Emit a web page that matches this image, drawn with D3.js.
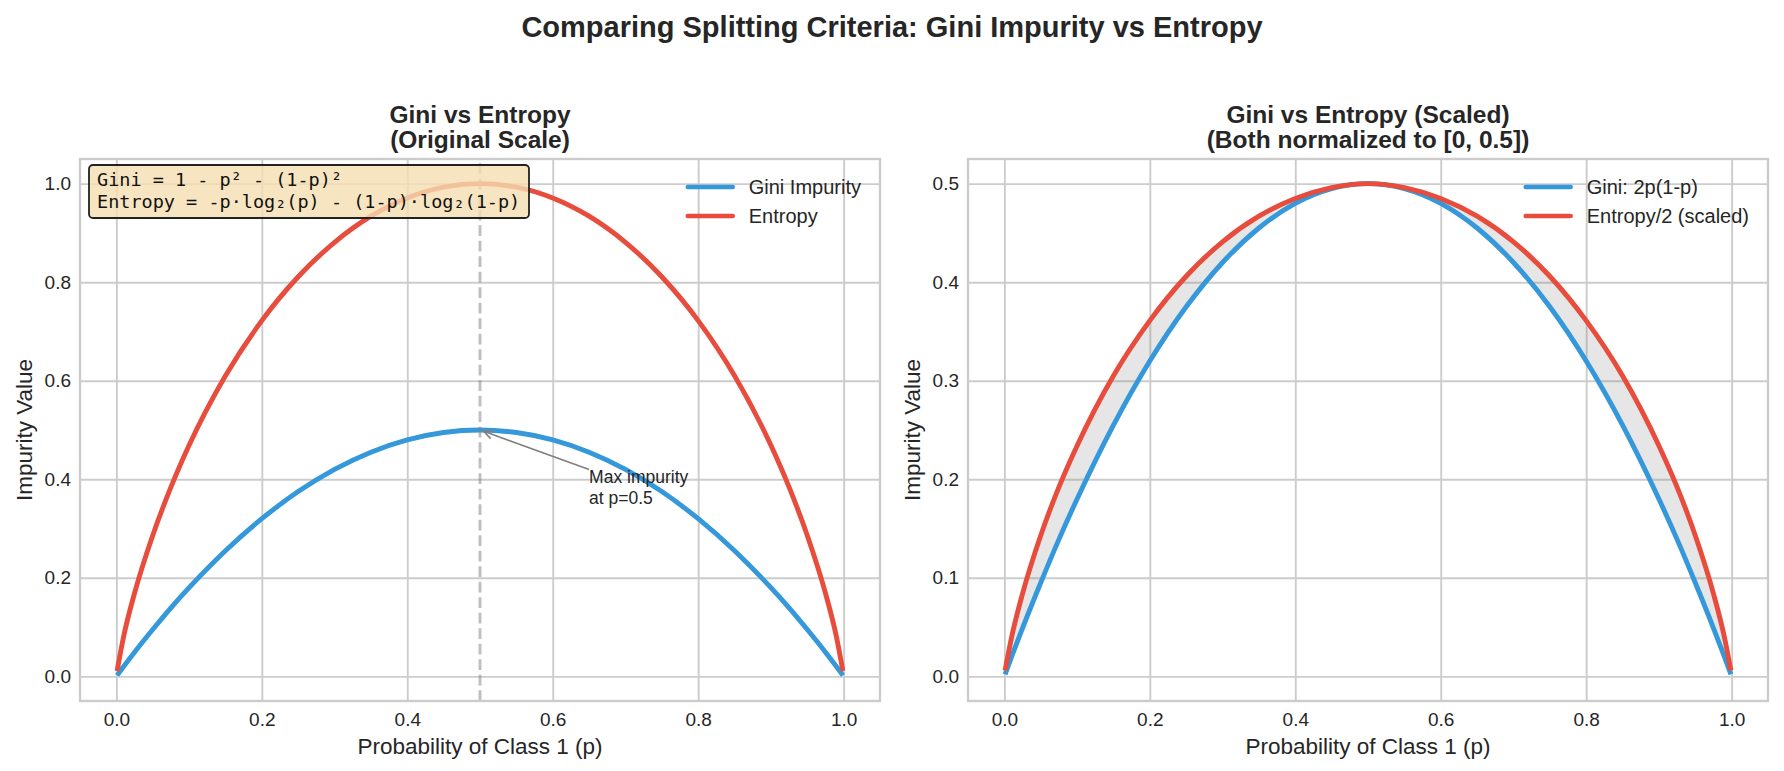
<!DOCTYPE html>
<html lang="en">
<head>
<meta charset="UTF-8">
<title>Gini vs Entropy</title>
<style>
    body { margin: 0; background: #fff; }
    svg { display: block; font-family: "Liberation Sans", Arial, sans-serif; }
</style>
</head>
<body>
<script src="https://cdnjs.cloudflare.com/ajax/libs/d3/7.8.5/d3.min.js"></script>
<script>
// values
const pValues = [0.001, 0.01, 0.025, 0.05, 0.075, 0.1, 0.15, 0.2, 0.25, 0.3, 0.35, 0.4, 0.45, 0.5,
                 0.55, 0.6, 0.65, 0.7, 0.75, 0.8, 0.85, 0.9, 0.925, 0.95, 0.975, 0.99, 0.999]
const giniValues = [0.002, 0.020, 0.049, 0.095, 0.139, 0.180, 0.255, 0.320, 0.375, 0.420, 0.455, 0.480, 0.495, 0.500,
                    0.495, 0.480, 0.455, 0.420, 0.375, 0.320, 0.255, 0.180, 0.139, 0.095, 0.049, 0.020, 0.002]
const entropyValues = [0.011, 0.081, 0.169, 0.286, 0.384, 0.469, 0.610, 0.722, 0.811, 0.881, 0.934, 0.971, 0.993, 1.000,
                       0.993, 0.971, 0.934, 0.881, 0.811, 0.722, 0.610, 0.469, 0.384, 0.286, 0.169, 0.081, 0.011]
const entropyHalfValues = [0.006, 0.040, 0.084, 0.143, 0.192, 0.234, 0.305, 0.361, 0.406, 0.441, 0.467, 0.485, 0.496, 0.500,
                           0.496, 0.485, 0.467, 0.441, 0.406, 0.361, 0.305, 0.234, 0.192, 0.143, 0.084, 0.040, 0.006]

const xTicks = [0, 0.2, 0.4, 0.6, 0.8, 1.0]
const yTicksLeft = [0, 0.2, 0.4, 0.6, 0.8, 1.0]
const yTicksRight = [0, 0.1, 0.2, 0.3, 0.4, 0.5]
const legendLeft = ["Gini Impurity", "Entropy"]
const legendRight = ["Gini: 2p(1-p)", "Entropy/2 (scaled)"]
const formulaLines = ["Gini = 1 - p\u00b2 - (1-p)\u00b2", "Entropy = -p\u00b7log\u2082(p) - (1-p)\u00b7log\u2082(1-p)"]
const annotation = { x: 0.5, y: 0.5, tx: 0.65, ty: 0.35, lines: ["Max impurity", "at p=0.5"] }
const markerP = 0.5

const width = 1784, height = 771
const blue = "#3498db", red = "#e74c3c", textColor = "#262626", gridColor = "#cccccc"

const svg = d3.select("body").append("svg")
    .attr("width", width)
    .attr("height", height)

svg.append("text")
    .attr("x", 892).attr("y", 37)
    .attr("text-anchor", "middle")
    .attr("font-size", 29).attr("font-weight", "bold")
    .attr("fill", textColor)
    .text("Comparing Splitting Criteria: Gini Impurity vs Entropy")

function makePanel(opts) {
    const left = opts.left, right = opts.left + 800, top = 159, bottom = 701
    const x = d3.scaleLinear().domain([-0.05, 1.05]).range([left, right])
    const y = d3.scaleLinear().domain(opts.yDomain).range([bottom, top])
    const g = svg.append("g")

    // grid + tick labels
    const xa = g.append("g")
        .attr("transform", `translate(0,${bottom})`)
        .call(d3.axisBottom(x).tickValues(xTicks).tickSize(-(bottom - top)).tickPadding(11.5).tickFormat(d3.format(".1f")))
    const ya = g.append("g")
        .attr("transform", `translate(${left},0)`)
        .call(d3.axisLeft(y).tickValues(opts.yTicks).tickSize(-(right - left)).tickPadding(9).tickFormat(d3.format(".1f")))
    for (const a of [xa, ya]) {
        a.select(".domain").remove()
        a.selectAll("line").attr("stroke", gridColor).attr("stroke-width", 1.9)
        a.selectAll("text").attr("font-size", 19).attr("fill", textColor).attr("font-family", null)
    }

    // titles
    const t = g.append("text")
        .attr("text-anchor", "middle")
        .attr("font-size", 24.5).attr("font-weight", "bold").attr("fill", textColor)
    t.append("tspan").attr("x", (left + right) / 2).attr("y", 123).text(opts.title[0])
    t.append("tspan").attr("x", (left + right) / 2).attr("y", 148).text(opts.title[1])

    g.append("text")
        .attr("x", (left + right) / 2).attr("y", 754)
        .attr("text-anchor", "middle")
        .attr("font-size", 22.5).attr("fill", textColor)
        .text("Probability of Class 1 (p)")
    g.append("text")
        .attr("transform", `translate(${left - opts.ylabelOff},${(top + bottom) / 2}) rotate(-90)`)
        .attr("text-anchor", "middle")
        .attr("font-size", 22.5).attr("fill", textColor)
        .text("Impurity Value")

    const plot = g.append("g")
    return { g, plot, x, y, left, right, top, bottom }
}

function drawLegend(p, labels) {
    const lg = p.g.append("g")
    const texts = labels.map((d, i) => lg.append("text")
        .attr("y", 187 + i * 29 + 7)
        .attr("font-size", 20).attr("fill", textColor)
        .text(d))
    const maxW = d3.max(texts, t => t.node().getComputedTextLength())
    const tx = p.right - 19 - maxW
    texts.forEach(t => t.attr("x", tx))
    ;[blue, red].forEach((c, i) => lg.append("line")
        .attr("x1", tx - 61).attr("x2", tx - 16)
        .attr("y1", 187 + i * 29).attr("y2", 187 + i * 29)
        .attr("stroke", c).attr("stroke-width", 4.5).attr("stroke-linecap", "round"))
}

function spines(p) {
    p.g.append("rect")
        .attr("x", p.left).attr("y", p.top)
        .attr("width", p.right - p.left).attr("height", p.bottom - p.top)
        .attr("fill", "none").attr("stroke", gridColor).attr("stroke-width", 2.4)
}

const curve = (p, vals) => d3.line()
    .x((d, i) => p.x(pValues[i]))
    .y(d => p.y(d))
    .curve(d3.curveMonotoneX)(vals)

// ---------- left panel
const L = makePanel({ left: 80, yDomain: [-0.05, 1.05], yTicks: yTicksLeft,
    title: ["Gini vs Entropy", "(Original Scale)"], ylabelOff: 48 })

L.plot.append("path").attr("d", curve(L, giniValues))
    .attr("fill", "none").attr("stroke", blue).attr("stroke-width", 4.9)
L.plot.append("path").attr("d", curve(L, entropyValues))
    .attr("fill", "none").attr("stroke", red).attr("stroke-width", 4.9)

L.plot.append("line")
    .attr("x1", L.x(markerP)).attr("x2", L.x(markerP))
    .attr("y1", L.bottom).attr("y2", L.top)
    .attr("stroke", "gray").attr("stroke-opacity", 0.5)
    .attr("stroke-width", 2.9).attr("stroke-dasharray", "10.8,4.7")

// annotation
const at = L.plot.append("text")
    .attr("font-size", 17.5).attr("fill", textColor)
annotation.lines.forEach((s, i) => at.append("tspan")
    .attr("x", L.x(annotation.tx))
    .attr("y", L.y(annotation.ty) - (annotation.lines.length - 1 - i) * 21)
    .text(s))
{
    const bb = at.node().getBBox()
    const cx = bb.x + bb.width / 2, cy = bb.y + bb.height / 2
    const px = L.x(annotation.x), py = L.y(annotation.y)
    const dx = px - cx, dy = py - cy
    const s = Math.min((bb.width / 2) / Math.abs(dx), (bb.height / 2) / Math.abs(dy))
    const sx = cx + dx * s, sy = cy + dy * s
    const len = Math.hypot(px - sx, py - sy)
    const ux = (px - sx) / len, uy = (py - sy) / len
    const ex = px - ux * 4, ey = py - uy * 4
    L.plot.append("line")
        .attr("x1", sx).attr("y1", sy).attr("x2", ex).attr("y2", ey)
        .attr("stroke", "gray").attr("stroke-width", 1.6)
    const hl = 9, hw = 4.5
    L.plot.append("path")
        .attr("d", `M${ex - ux * hl - uy * hw},${ey - uy * hl + ux * hw}L${ex},${ey}L${ex - ux * hl + uy * hw},${ey - uy * hl - ux * hw}`)
        .attr("fill", "none").attr("stroke", "gray").attr("stroke-width", 1.6)
}

// formula box
const fb = L.g.append("g")
fb.append("rect")
    .attr("x", 89).attr("y", 165).attr("width", 440).attr("height", 53).attr("rx", 4)
    .attr("fill", "wheat").attr("fill-opacity", 0.8)
    .attr("stroke", "#222").attr("stroke-width", 1.8)
formulaLines.forEach((s, i) => fb.append("text")
    .attr("x", 97).attr("y", 185.5 + i * 22.3)
    .attr("font-family", "'DejaVu Sans Mono', monospace")
    .attr("font-size", 18.5).attr("fill", "#111")
    .text(s))

drawLegend(L, legendLeft)
spines(L)

// ---------- right panel
const R = makePanel({ left: 968, yDomain: [-0.025, 0.525], yTicks: yTicksRight,
    title: ["Gini vs Entropy (Scaled)", "(Both normalized to [0, 0.5])"], ylabelOff: 48 })

R.plot.append("path")
    .attr("d", d3.area()
        .x((d, i) => R.x(pValues[i]))
        .y0((d, i) => R.y(giniValues[i]))
        .y1(d => R.y(d))
        .curve(d3.curveMonotoneX)(entropyHalfValues))
    .attr("fill", "gray").attr("fill-opacity", 0.2)
R.plot.append("path").attr("d", curve(R, giniValues))
    .attr("fill", "none").attr("stroke", blue).attr("stroke-width", 4.9)
R.plot.append("path").attr("d", curve(R, entropyHalfValues))
    .attr("fill", "none").attr("stroke", red).attr("stroke-width", 4.9)

drawLegend(R, legendRight)
spines(R)
</script>
</body>
</html>
